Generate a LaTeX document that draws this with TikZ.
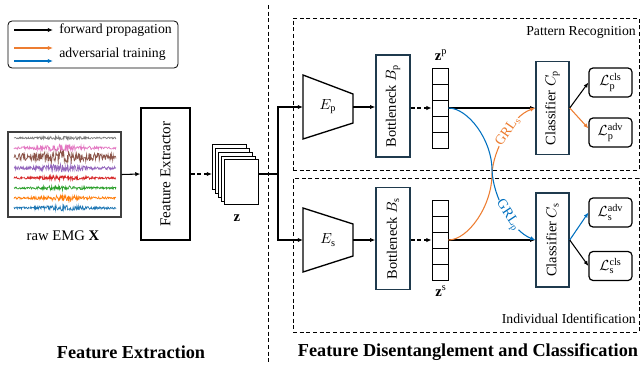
\documentclass[tikz,border=0pt]{standalone}
\usepackage{fontspec}
\setmainfont{Liberation Serif}
\usepackage{graphicx}
\usetikzlibrary{arrows.meta,calc}
\definecolor{advor}{HTML}{ED7D31}
\definecolor{advbl}{HTML}{0070C0}
\definecolor{boxc}{HTML}{1F3A4D}
\definecolor{emggray}{HTML}{7F7F7F}
\definecolor{emgpink}{HTML}{E377C2}
\definecolor{emgbrown}{HTML}{8C564B}
\definecolor{emgpurple}{HTML}{9467BD}
\definecolor{emgred}{HTML}{D62728}
\definecolor{emggreen}{HTML}{2CA02C}
\definecolor{emgorange}{HTML}{FF7F0E}
\definecolor{emgblue}{HTML}{1F77B4}
\begin{document}
\begin{tikzpicture}[x=0.75pt,y=-0.75pt,
  font=\fontsize{10.3}{12}\selectfont,
  arr/.style={-{Latex[length=3.8pt,width=3.2pt]}, line width=0.8pt},
  dasharr/.style={arr, dash pattern=on 3pt off 2pt},
  dbox/.style={draw, line width=0.6pt, dash pattern=on 3pt off 2pt},
  plainbox/.style={draw, line width=1pt, inner sep=0pt},
  tealbox/.style={draw=boxc, line width=1.1pt, inner sep=0pt, font=\fontsize{10.8}{12}\selectfont},
  lossbox/.style={draw, line width=0.9pt, rounded corners=3pt, inner sep=0pt,
    minimum width=32.25pt, minimum height=21.75pt, font=\fontsize{11}{12}\selectfont},
  cell/.style={draw, line width=0.7pt, minimum width=12pt, minimum height=12pt, inner sep=0pt},
  sheet/.style={draw, line width=0.7pt, fill=white, minimum width=25.5pt, minimum height=33.75pt, inner sep=0pt},
  heading/.style={font=\fontsize{13.7}{15}\selectfont\bfseries},
  grl/.style={sloped, fill=white, inner sep=0.6pt, font=\fontsize{10.5}{12}\selectfont}
]
\useasboundingbox (0,0) rectangle (642,364);

% ---------- legend ----------
\node[draw, line width=0.6pt, rounded corners=3pt, minimum width=127.5pt, minimum height=35.25pt, inner sep=0pt] (legend) at (93,44.5) {};
\coordinate (lga) at (14,30); \coordinate (lgb) at (53,30);
\coordinate (lgc) at (14,48); \coordinate (lgd) at (53,48);
\coordinate (lge) at (14,61); \coordinate (lgf) at (53,61);
\draw[arr] (lga) -- (lgb);
\draw[arr, advor] (lgc) -- (lgd);
\draw[arr, advbl] (lge) -- (lgf);
\node[anchor=west, inner sep=0pt] (lgt1) at (59,30.5) {forward propagation};
\node[anchor=west, inner sep=0pt] (lgt2) at (59,54) {adversarial training};

% ---------- divider ----------
\coordinate (dvt) at (268,5); \coordinate (dvb) at (268,364);
\draw[line width=0.6pt, dash pattern=on 3pt off 2pt] (dvt) -- (dvb);

% ---------- raw EMG ----------
\node[draw=black!75, line width=0.8pt, minimum width=84.75pt, minimum height=63.75pt, inner sep=0pt] (emg) at (64.5,174.5) {};
\pgfmathsetseed{11}
\foreach \yc/\col/\a/\b in {138/emggray/0.9/0.8, 148/emgpink/1.3/2.4, 157/emgbrown/3.4/4.2, 168/emgpurple/1.5/2.4, 178/emgred/1.1/1.4, 188/emggreen/1.0/1.4, 198/emgorange/1.1/1.9, 208/emgblue/1.1/1.9}
  \draw[\col, line width=0.5pt] plot[domain=14:116, samples=220] (\x, {\yc + (\a + \b*exp(-((\x-62)/22)^2))*rand});
\node (emglab) at (63,236) {\fontsize{11}{12}\selectfont raw EMG \textbf{X}};

% ---------- feature extractor ----------
\node[plainbox, minimum width=36.75pt, minimum height=99pt] (fe) at (165.5,174) {\rotatebox{90}{\fontsize{11.3}{12}\selectfont Feature Extractor}};
\draw[arr] (emg.east) -- (fe.west);

% ---------- z stack ----------
\node[sheet] (z1) at (229,166.5) {};
\node[sheet] (z2) at (232,170.5) {};
\node[sheet] (z3) at (235,174.5) {};
\node[sheet] (z4) at (238,178.5) {};
\node[sheet] (z5) at (241,182) {};
\coordinate (zin) at (212,174);
\draw[dasharr] (fe.east) -- (zin);
\node (zlab) at (237,218) {\fontsize{11}{12}\selectfont$\mathbf{z}$};
\coordinate (zout) at (258,174);
\coordinate (jn) at (278,174);
\draw[line width=0.8pt] (zout) -- (jn);

% ---------- boxes ----------
\node[dbox, minimum width=259.5pt, minimum height=114pt, inner sep=0pt] (prbox) at (466,94) {};
\node[dbox, minimum width=259.5pt, minimum height=115.5pt, inner sep=0pt] (iibox) at (466,255) {};
\node[anchor=east, inner sep=0pt] (prlab) at (636,32) {Pattern Recognition};
\node[anchor=east, inner sep=0pt] (iilab) at (636,319) {Individual Identification};

% ---------- encoders ----------
\draw[line width=1pt] (303,75) -- (353,94) -- (353,123) -- (303,139) -- cycle;
\draw[line width=1pt] (303,208) -- (353,224) -- (353,256) -- (303,272) -- cycle;
\coordinate (Epw) at (303,107); \coordinate (Epe) at (353,107);
\coordinate (Esw) at (303,240); \coordinate (Ese) at (353,240);
\node (Eplab) at (328,107) {\fontsize{11}{12}\selectfont$E_\mathrm{p}$};
\node (Eslab) at (328,240) {\fontsize{11}{12}\selectfont$E_\mathrm{s}$};
\draw[arr] (jn) |- (Epw);
\draw[arr] (jn) |- (Esw);

% ---------- bottlenecks ----------
\node[tealbox, minimum width=25.5pt, minimum height=76.5pt] (Bp) at (393,106) {\rotatebox{90}{Bottleneck $B_\mathrm{p}$}};
\node[tealbox, minimum width=25.5pt, minimum height=76.5pt] (Bs) at (393,238.5) {\rotatebox{90}{Bottleneck $B_\mathrm{s}$}};
\draw[arr] (Epe) -- (Epe -| Bp.west);
\draw[arr] (Ese) -- (Ese -| Bs.west);

% ---------- latent vectors ----------
\foreach \i/\yy in {1/76,2/92,3/108,4/124,5/140}
  \node[cell] (zp\i) at (440,\yy) {};
\foreach \i/\yy in {1/208,2/224,3/240,4/256,5/272}
  \node[cell] (zs\i) at (440,\yy) {};
\node (zplab) at (441,55) {\fontsize{11}{12}\selectfont$\mathbf{z}^\mathrm{p}$};
\node (zslab) at (441,291) {\fontsize{11}{12}\selectfont$\mathbf{z}^\mathrm{s}$};
\draw[dasharr] (Bp.east |- zp3) -- (zp3.west);
\draw[dasharr] (Bs.east |- zs3) -- (zs3.west);

% ---------- classifiers ----------
\node[tealbox, minimum width=24.75pt, minimum height=69.75pt] (Cp) at (552.5,108) {\rotatebox{90}{Classifier $C_\mathrm{p}$}};
\node[tealbox, minimum width=24.75pt, minimum height=70.5pt] (Cs) at (552.5,240) {\rotatebox{90}{Classifier $C_\mathrm{s}$}};
\coordinate (Cpin) at (Cp.west |- zp3);
\coordinate (Csin) at (Cs.west |- zs3);
\draw[arr] (zp3.east) -- (Cpin);
\draw[arr] (zs3.east) -- (Csin);

% ---------- adversarial curves ----------
\coordinate (xo) at (492,174);
\coordinate (xb) at (492,170);
\draw[arr, advor] (zs3.east) .. controls (468,240) and (492,206) .. (xo)
   .. controls (493,150) and (512,116) .. node[grl, pos=0.55] {GRL$_\mathrm{s}$} (Cpin);
\draw[arr, advbl] (zp3.east) .. controls (468,108) and (492,140) .. (xb)
   .. controls (493,197) and (512,231) .. node[grl, pos=0.55] {GRL$_\mathrm{p}$} (Csin);

% ---------- losses ----------
\node[lossbox] (Lpc) at (610.5,82.5) {$\mathcal{L}_\mathrm{p}^\mathrm{cls}$};
\node[lossbox] (Lpa) at (610.5,132.5) {$\mathcal{L}_\mathrm{p}^\mathrm{adv}$};
\node[lossbox] (Lsa) at (610.5,212.5) {$\mathcal{L}_\mathrm{s}^\mathrm{adv}$};
\node[lossbox] (Lsc) at (610.5,266) {$\mathcal{L}_\mathrm{s}^\mathrm{cls}$};
\coordinate (Cpout) at (Cp.east |- zp3);
\coordinate (Csout) at (Cs.east |- zs3);
\draw[arr] (Cpout) -- (Lpc.west);
\draw[arr, advor] (Cpout) -- ($(Lpa.west)+(0,-4)$);
\draw[arr, advbl] (Csout) -- (Lsa.west);
\draw[arr] (Csout) -- (Lsc.west);

% ---------- headings ----------
\node[heading] (h1) at (131,352) {Feature Extraction};
\node[heading] (h2) at (468,352) {Feature Disentanglement and Classification};
\end{tikzpicture}
\end{document}
